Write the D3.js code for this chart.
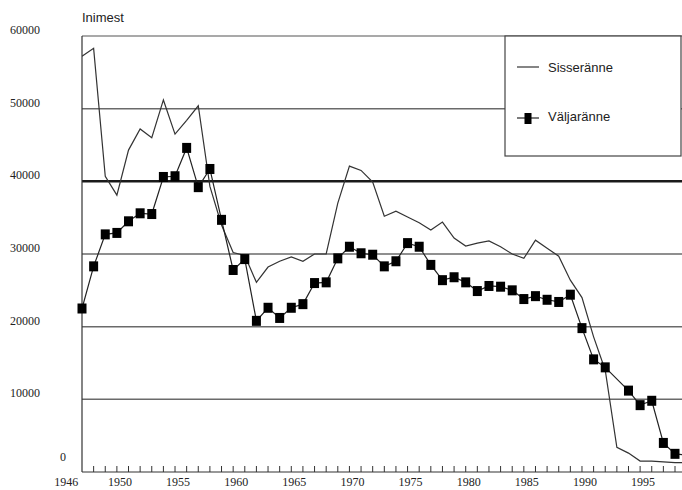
<!DOCTYPE html>
<html>
<head>
<meta charset="utf-8">
<script src="https://cdn.jsdelivr.net/npm/d3@7"></script>
<style>
  html, body { margin: 0; padding: 0; background: #fff; }
  svg { display: block; }
</style>
</head>
<body>
<svg id="chart" width="682" height="490"></svg>
<script>
const years = d3.range(1947, 2000);
const sisseranne = [
  57200, 58300, 40700, 38100, 44300, 47200, 46000, 51200, 46500, 48400,
  50400, 39300, 34000, 30200, 29800, 26100, 28200, 29000, 29600, 29000,
  30000, 30000, 37000, 42100, 41500, 39900, 35200, 35900, 35100, 34300,
  33300, 34400, 32200, 31100, 31500, 31800, 31000, 30000, 29400, 31900,
  30800, 29700, 26400, 24000, 18600, 14000, 3400, 2600, 1500, 1500,
  1400, 1300, 1300
];
const valjaranne = [
  22500, 28300, 32700, 32900, 34500, 35600, 35500, 40600, 40700, 44600,
  39200, 41700, 34700, 27800, 29300, 20800, 22600, 21200, 22600, 23100,
  26000, 26100, 29400, 31000, 30100, 29900, 28300, 29000, 31500, 31000,
  28500, 26400, 26800, 26100, 24900, 25600, 25500, 25000, 23800, 24200,
  23700, 23400, 24400, 19800, 15500, 14400, null, 11200, 9200, 9800,
  4000, 2500, 2300
];
const yTicks = [0, 10000, 20000, 30000, 40000, 50000, 60000];
const xLabels = [1946, 1950, 1955, 1960, 1965, 1970, 1975, 1980, 1985, 1990, 1995];
const seriesNames = ["Sisseränne", "Väljaränne"];
const yTitle = "Inimest";

const svg = d3.select("#chart");
const pL = 82, pT = 36, pR = 682, pB = 472;
const x = d3.scaleLinear().domain([1947, 1998]).range([pL, 675]);
const y = d3.scaleLinear().domain([0, 60000]).range([pB, pT]);

// grid lines
svg.append("g").selectAll("line")
  .data(yTicks.filter(v => v > 0 && v < 60000))
  .join("line")
  .attr("x1", pL).attr("x2", pR)
  .attr("y1", d => y(d)).attr("y2", d => y(d))
  .attr("stroke", d => d === 40000 ? "#1a1a1a" : "#6a6a6a")
  .attr("stroke-width", d => d === 40000 ? 2.5 : 1.5);

// top border
svg.append("line")
  .attr("x1", pL).attr("x2", pR)
  .attr("y1", y(60000)).attr("y2", y(60000))
  .attr("stroke", "#555").attr("stroke-width", 1.2);

// y labels
svg.append("g").selectAll("text")
  .data(yTicks)
  .join("text")
  .attr("x", d => d === 0 ? 60 : 40)
  .attr("y", d => d === 0 ? y(d) - 11 : y(d) - 2)
  .attr("text-anchor", d => d === 0 ? "start" : "end")
  .attr("font-family", "'Liberation Serif', 'Times New Roman', serif")
  .attr("font-size", 12)
  .attr("fill", "#222")
  .text(d => d);

// axes lines
svg.append("line")
  .attr("x1", pL).attr("x2", pL)
  .attr("y1", pT).attr("y2", pB)
  .attr("stroke", "#333").attr("stroke-width", 1.2);
svg.append("line")
  .attr("x1", pL).attr("x2", pR)
  .attr("y1", pB).attr("y2", pB)
  .attr("stroke", "#333").attr("stroke-width", 1.2);

// x ticks (upward)
svg.append("g").selectAll("line")
  .data(d3.range(1948, 1999))
  .join("line")
  .attr("x1", d => x(d)).attr("x2", d => x(d))
  .attr("y1", pB).attr("y2", pB - 6)
  .attr("stroke", "#333").attr("stroke-width", 1);

// x labels
svg.append("g").selectAll("text")
  .data(xLabels)
  .join("text")
  .attr("x", d => d === 1946 ? x(d) - 4 : x(d) + 3)
  .attr("y", 486)
  .attr("text-anchor", "middle")
  .attr("font-family", "'Liberation Serif', 'Times New Roman', serif")
  .attr("font-size", 12)
  .attr("fill", "#222")
  .text(d => d);

// y title
svg.append("text")
  .attr("x", pL).attr("y", 22)
  .attr("font-family", "'Liberation Sans', Arial, sans-serif")
  .attr("font-size", 13)
  .attr("fill", "#222")
  .text(yTitle);

// series
svg.append("clipPath").attr("id", "clip")
  .append("rect").attr("x", pL).attr("y", 0).attr("width", pR - pL).attr("height", pB);

const sData = years.map((yr, i) => ({yr, v: sisseranne[i]}));
const vData = years.map((yr, i) => ({yr, v: valjaranne[i]})).filter(d => d.v !== null);
const line = d3.line().x(d => x(d.yr)).y(d => y(d.v));

const g = svg.append("g").attr("clip-path", "url(#clip)");
g.append("path").datum(sData).attr("d", line)
  .attr("fill", "none").attr("stroke", "#333").attr("stroke-width", 1.2);
g.append("path").datum(vData).attr("d", line)
  .attr("fill", "none").attr("stroke", "#222").attr("stroke-width", 1.2);

const mw = 9, mh = 10;
svg.append("g").selectAll("rect")
  .data(vData.filter(d => x(d.yr) <= pR))
  .join("rect")
  .attr("x", d => x(d.yr) - mw / 2).attr("y", d => y(d.v) - mh / 2)
  .attr("width", mw).attr("height", mh)
  .attr("fill", "#000");

// legend
const lg = svg.append("g");
lg.append("rect")
  .attr("x", 505).attr("y", 36).attr("width", 176).attr("height", 120)
  .attr("fill", "#fff").attr("stroke", "#444").attr("stroke-width", 1.2);
lg.append("line").attr("x1", 517).attr("x2", 539).attr("y1", 67).attr("y2", 67)
  .attr("stroke", "#333").attr("stroke-width", 1.2);
lg.append("text").attr("x", 548).attr("y", 72)
  .attr("font-family", "'Liberation Sans', Arial, sans-serif").attr("font-size", 13)
  .attr("fill", "#222").text(seriesNames[0]);
lg.append("line").attr("x1", 517).attr("x2", 539).attr("y1", 118).attr("y2", 118)
  .attr("stroke", "#222").attr("stroke-width", 1.2);
lg.append("rect").attr("x", 528 - mw / 2 + 1).attr("y", 118 - mh / 2).attr("width", mw - 2).attr("height", mh + 1)
  .attr("fill", "#000");
lg.append("text").attr("x", 548).attr("y", 121)
  .attr("font-family", "'Liberation Sans', Arial, sans-serif").attr("font-size", 13)
  .attr("fill", "#222").text(seriesNames[1]);
</script>
</body>
</html>
